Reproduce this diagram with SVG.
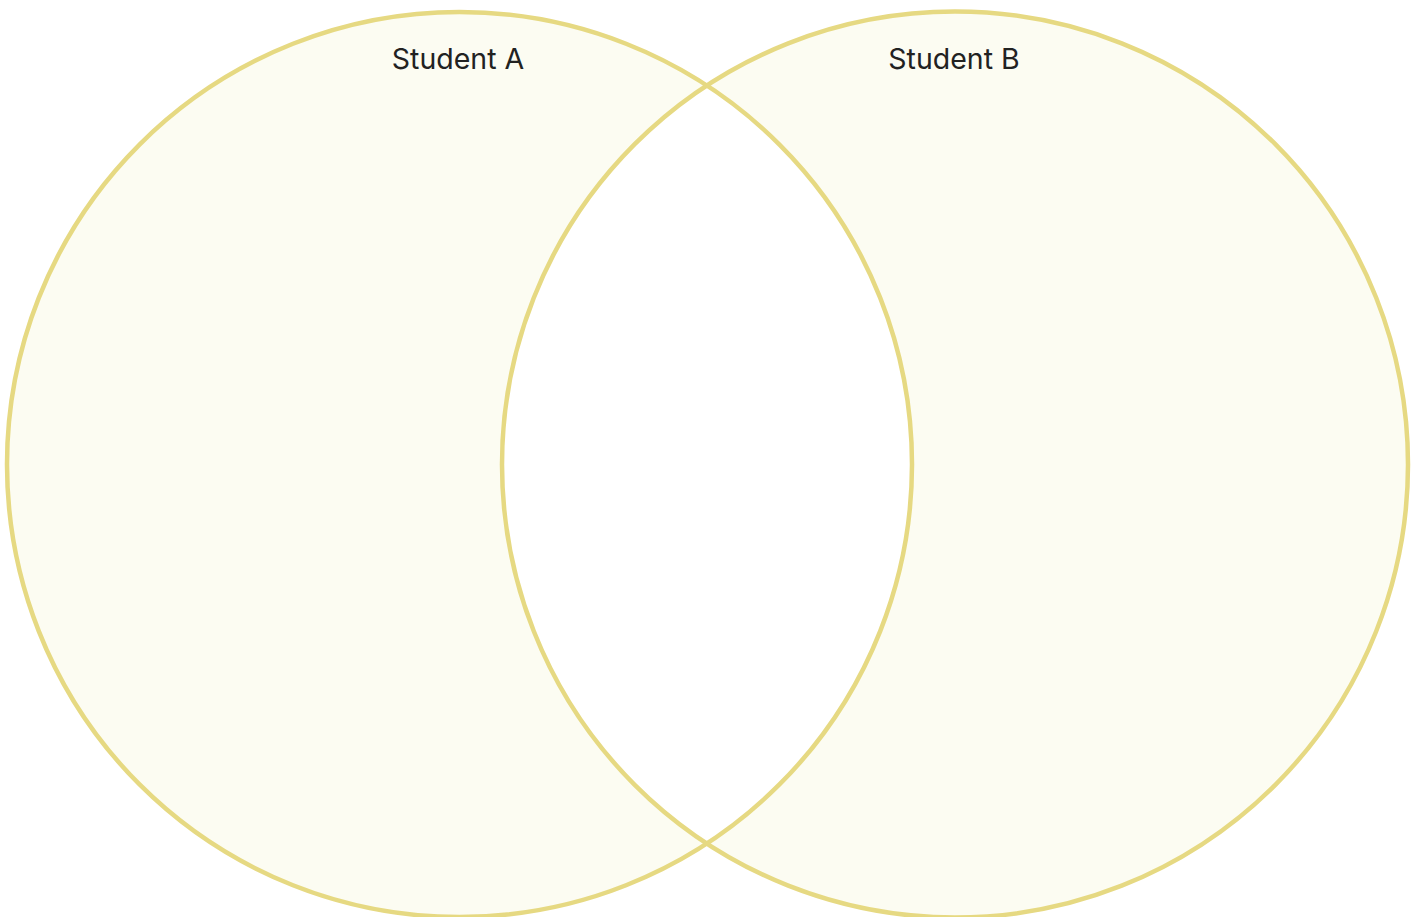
<svg xmlns="http://www.w3.org/2000/svg" width="1421" height="917" viewBox="0 0 1421 917">
<style>
.set{fill:#fcfcf2;stroke:none}
.ring{fill:none;stroke:#e6d982;stroke-width:4.5}
.lbl{font-family:Inter,"Liberation Sans",sans-serif;font-size:28.5px;fill:#222;text-anchor:middle}
</style>
<rect width="1421" height="917" fill="#ffffff"/>
<g id="fills">
<circle class="set" cx="459.5" cy="464.5" r="452.5"/>
<circle class="set" cx="955" cy="464.5" r="453"/>
<path d="M707.2,86.5 A453,453 0 0 1 707.2,842.5 A452.5,452.5 0 0 1 707.2,86.5 Z" fill="#ffffff"/>
</g>
<g id="studentA">
<circle class="ring" cx="459.5" cy="464.5" r="452.5"/>
<text class="lbl" x="458" y="69">Student A</text>
</g>
<g id="studentB">
<circle class="ring" cx="955" cy="464.5" r="453"/>
<text class="lbl" x="954" y="69">Student B</text>
</g>
<g id="connectors"></g>
</svg>
